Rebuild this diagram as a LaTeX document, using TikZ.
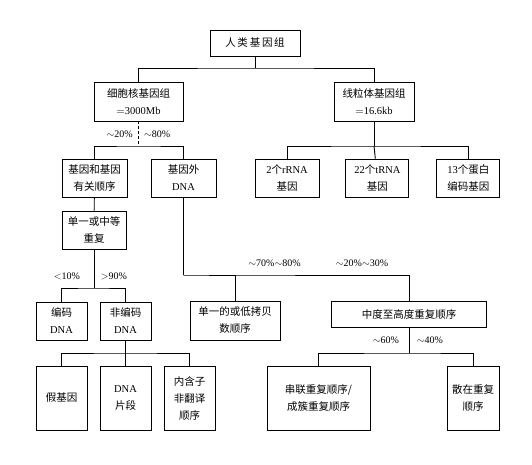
\documentclass[tikz,border=0pt]{standalone}
\usepackage{fontspec}
\setmainfont{Liberation Serif}
\newfontfamily\cjk{Noto Sans CJK SC}
\usetikzlibrary{positioning}
\tikzstyle{box}=[rectangle, draw, line width=0.9pt, inner sep=0pt, align=center,
  font=\cjk\fontsize{10.5}{17}\selectfont]
\tikzstyle{pct}=[inner sep=0pt, font=\fontsize{10}{12}\selectfont]
\tikzstyle{link}=[line width=0.9pt]
\newcommand{\rmtxt}[1]{{\rmfamily #1}}

\begin{document}
\begin{tikzpicture}[x=1pt, y=-1pt]
      \useasboundingbox (0,0) rectangle (532,464);

      % top levels
      \node[box, minimum width=90pt, minimum height=26pt] (hg) at (255,43) {人\,类\,基\,因\,组};
      \node[box, minimum width=89pt, minimum height=39pt] (nuc) at (138.5,101.5) {细胞核基因组\\\rmtxt{$=$3000Mb}};
      \node[box, minimum width=80pt, minimum height=39pt] (mt) at (374,101.5) {线粒体基因组\\\rmtxt{$=$16.6kb}};

      % second row
      \node[box, minimum width=65pt, minimum height=38pt] (gen) at (94.5,178) {基因和基因\\有关顺序};
      \node[box, minimum width=65pt, minimum height=38pt] (ext) at (183.5,178) {基因外\\\rmtxt{DNA}};
      \node[box, minimum width=64pt, minimum height=38pt] (rrna) at (287,178) {\rmtxt{2}个\rmtxt{rRNA}\\基因};
      \node[box, minimum width=63pt, minimum height=38pt] (trna) [right=26pt of rrna] {\rmtxt{22}个\rmtxt{tRNA}\\基因};
      \node[box, minimum width=63pt, minimum height=38pt] (prot) [right=27pt of trna] {\rmtxt{13}个蛋白\\编码基因};

      % gene branch
      \node[box, minimum width=64pt, minimum height=38pt] (rep) at (94,230) {单一或中等\\重复};
      \node[box, minimum width=51pt, minimum height=38pt] (cod) at (61.5,321) {编码\\\rmtxt{DNA}};
      \node[box, minimum width=51pt, minimum height=38pt] (ncod) at (125.5,321) {非编码\\\rmtxt{DNA}};
      \node[box, minimum width=51pt, minimum height=64pt] (pseu) at (61.5,398) {假基因};
      \node[box, minimum width=51pt, minimum height=64pt] (frag) at (125.5,398) {\rmtxt{DNA}\\片段};
      \node[box, minimum width=51pt, minimum height=64pt] (intr) at (189.5,398) {内含子\\非翻译\\顺序};

      % extragenic branch
      \node[box, minimum width=90pt, minimum height=39pt] (low) at (235,320.5) {单一的或低拷贝\\数顺序};
      \node[box, minimum width=155pt, minimum height=26pt] (mid) at (409,314) {中度至高度重复顺序};
      \node[box, minimum width=103pt, minimum height=64pt] (tand) at (318.5,398) {串联重复顺序/\\成簇重复顺序};
      \node[box, minimum width=52pt, minimum height=64pt] (disp) at (473,398) {散在重复\\顺序};

      % junctions
      \coordinate (j0) at (255,68);
      \coordinate (j1) at (138.5,146);
      \coordinate (j2) at (374,146);
      \coordinate (j3) at (94,288);
      \coordinate (j4) at (125.5,353);
      \coordinate (j5) at (183.5,275);
      \coordinate (j6) at (409,353);

      \draw[link] (hg) -- (j0);
      \draw[link] (nuc.north) |- (j0) -| (mt.north);
      \draw[link, densely dashed] (nuc) -- (j1);
      \draw[link] (gen.north) |- (j1) -| (ext.north);
      \draw[link] (mt) -- (j2);
      \draw[link] (rrna.north) |- (j2) -| (prot.north);
      \draw[link] (j2) -- (trna);
      \draw[link] (gen) -- (rep);
      \draw[link] (rep) -- (j3);
      \draw[link] (cod.north) |- (j3) -| (ncod.north);
      \draw[link] (ncod) -- (j4);
      \draw[link] (pseu.north) |- (j4) -| (intr.north);
      \draw[link] (j4) -- (frag);
      \draw[link] (ext) -- (j5);
      \draw[link] (low.north) |- (j5) -| (mid.north);
      \draw[link] (mid) -- (j6);
      \draw[link] (tand.north) |- (j6) -| (disp.north);

      % percentages
      \node[pct, anchor=east] (p20) at (133,134) {$\sim$20\%};
      \node[pct, anchor=west] (p80) at (144,134) {$\sim$80\%};
      \node[pct] (p10) at (67,276) {$<$10\%};
      \node[pct] (p90) at (114,276) {$>$90\%};
      \node[pct] (p70) at (274.5,263) {$\sim$70\%$\sim$80\%};
      \node[pct] (p30) at (362,263) {$\sim$20\%$\sim$30\%};
      \node[pct] (p60) at (386,340) {$\sim$60\%};
      \node[pct] (p40) at (430,340) {$\sim$40\%};
\end{tikzpicture}
\end{document}
